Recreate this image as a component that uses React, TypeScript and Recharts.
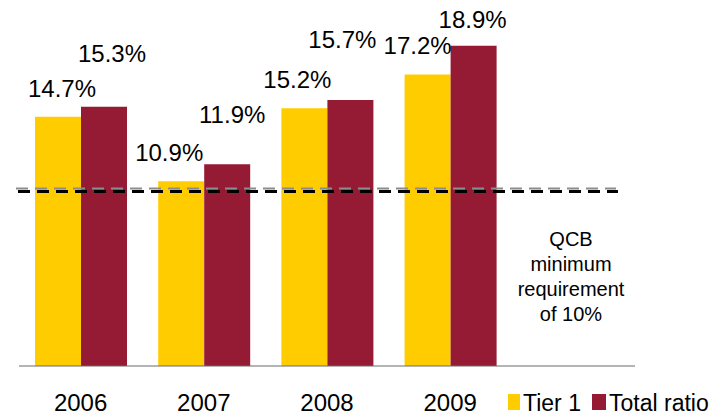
import { Bar, BarChart, LabelList, Legend, ReferenceLine, XAxis, YAxis } from "recharts"

// values
const years = ["2006", "2007", "2008", "2009", ""]
const tier1 = [14.7, 10.9, 15.2, 17.2, null]
const totalRatio = [15.3, 11.9, 15.7, 18.9, null]
const qcbLine = 10.3 // dashed line as drawn, just above 10%
const qcbShadow = 10.47
const qcbText = ["QCB", "minimum", "requirement", "of 10%"]

const data = years.map((year, i) => ({ year, tier1: tier1[i], total: totalRatio[i] }))

const YELLOW = "#FFCC00"
const RED = "#951A33"
const FONT = "'Liberation Sans', Arial, sans-serif"

// hand placement of the value labels (dx from bar centre, lift of baseline above bar top)
const TIER1_DX = [4, -12, -7, -10]
const TIER1_LIFT = [20, 20, 20, 20]
const TOTAL_DX = [8, 5, -8, -1]
const TOTAL_LIFT = [45, 41, 52, 18]

const valueLabel = (dxs: number[], lifts: number[]) => (props: any) => {
  const vb = props.viewBox ?? props
  const { value, index } = props
  if (value == null) return null
  return (
    <text
      x={vb.x + vb.width / 2 + dxs[index]}
      y={vb.y - lifts[index]}
      textAnchor="middle"
      fontSize={24}
      fontFamily={FONT}
      fill="#000"
    >
      {Number(value).toFixed(1)}%
    </text>
  )
}

const dashLine = (color: string, w: number, dx1: number, dx2: number) => (p: any) => (
  <line
    x1={p.x1 + dx1}
    y1={p.y1}
    x2={p.x2 + dx2}
    y2={p.y2}
    stroke={color}
    strokeWidth={w}
    strokeDasharray="12 7"
  />
)

const qcbLabel = (props: any) => {
  const vb = props.viewBox
  const cx = vb.x + vb.width - 64
  return (
    <text textAnchor="middle" fontSize={20} fontFamily={FONT} fill="#000">
      {qcbText.map((t, i) => (
        <tspan key={t} x={cx} y={vb.y + 55 + i * 25}>
          {t}
        </tspan>
      ))}
    </text>
  )
}

const yearTick = (props: any) => (
  <text x={props.x} y={props.y + 45} textAnchor="middle" fontSize={24} fontFamily={FONT} fill="#000">
    {props.payload.value}
  </text>
)

const legendContent = () => (
  <svg width={215} height={32} style={{ display: "block" }}>
    <rect x={5} y={6} width={12} height={16} fill={YELLOW} />
    <text x={20} y={23} fontSize={23} fontFamily={FONT} fill="#000">
      Tier 1
    </text>
    <rect x={89} y={6} width={14} height={16} fill={RED} />
    <text x={106} y={23} fontSize={23} fontFamily={FONT} fill="#000">
      Total ratio
    </text>
  </svg>
)

export default function App() {
  return (
    <div style={{ fontFamily: FONT, marginTop: -8 }}>
      <BarChart
        width={710}
        height={416}
        data={data}
        margin={{ top: 27, right: 83, bottom: 0, left: 11 }}
        barGap={0}
      >
        <XAxis
          dataKey="year"
          height={50}
          tickSize={0}
          tickMargin={0}
          tickLine={false}
          axisLine={{ stroke: "#6b6b6b", strokeWidth: 1 }}
          tick={yearTick}
          interval={0}
        />
        <YAxis hide domain={[0, 20]} />
        <Bar dataKey="tier1" name="Tier 1" fill={YELLOW} barSize={46} isAnimationActive={false}>
          <LabelList dataKey="tier1" content={valueLabel(TIER1_DX, TIER1_LIFT)} />
        </Bar>
        <Bar dataKey="total" name="Total ratio" fill={RED} barSize={46} isAnimationActive={false}>
          <LabelList dataKey="total" content={valueLabel(TOTAL_DX, TOTAL_LIFT)} />
        </Bar>
        <ReferenceLine y={qcbShadow} shape={dashLine("#8c8c8c", 2, -3, -19)} />
        <ReferenceLine y={qcbLine} shape={dashLine("#000", 3, -1, -17)} label={qcbLabel} />
        <Legend
          layout="vertical"
          align="center"
          verticalAlign="middle"
          content={legendContent}
          wrapperStyle={{ left: 495, top: 388, width: 215, height: 32 }}
        />
      </BarChart>
    </div>
  )
}
